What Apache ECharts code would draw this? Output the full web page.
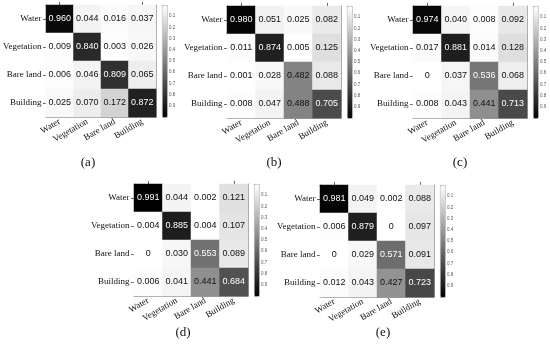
<!DOCTYPE html>
<html>
<head>
<meta charset="utf-8">
<script src="https://cdn.jsdelivr.net/npm/echarts@6/dist/echarts.min.js"></script>
<style>html,body{margin:0;padding:0;background:#fff}#c{width:550px;height:345px}</style>
</head>
<body>
<div id="c"></div>
<script>
const categories = ['Water', 'Vegetation', 'Bare land', 'Building'];
const matA = [[0.960, 0.044, 0.016, 0.037], [0.009, 0.840, 0.003, 0.026], [0.006, 0.046, 0.809, 0.065], [0.025, 0.070, 0.172, 0.872]];
const matB = [[0.980, 0.051, 0.025, 0.082], [0.011, 0.874, 0.005, 0.125], [0.001, 0.028, 0.482, 0.088], [0.008, 0.047, 0.488, 0.705]];
const matC = [[0.974, 0.040, 0.008, 0.092], [0.017, 0.881, 0.014, 0.128], [0, 0.037, 0.536, 0.068], [0.008, 0.043, 0.441, 0.713]];
const matD = [[0.991, 0.044, 0.002, 0.121], [0.004, 0.885, 0.004, 0.107], [0, 0.030, 0.553, 0.089], [0.006, 0.041, 0.441, 0.684]];
const matE = [[0.981, 0.049, 0.002, 0.088], [0.006, 0.879, 0, 0.097], [0, 0.029, 0.571, 0.091], [0.012, 0.043, 0.427, 0.723]];
const captions = ['(a)', '(b)', '(c)', '(d)', '(e)'];
const colorbarMin = 0, colorbarMax = 1, colorbarStep = 0.1;

const matrices = [matA, matB, matC, matD, matE];
// layout (pixels)
const panels = [
  {left: 42, top: 5, cap: [88, 156]},
  {left: 227, top: 6, cap: [274, 156]},
  {left: 413, top: 6, cap: [460, 156]},
  {left: 134, top: 184, cap: [183, 326]},
  {left: 320, top: 185, cap: [383, 326]}
];
const W = 114, H = 112, CBGAP = 6, CBW = 5;
const SERIF = 'Liberation Serif';
const SANS = 'Liberation Sans';
const AXC = '#9a9a9a';

const grid = [], xAxis = [], yAxis = [], series = [], visualMap = [], title = [];
panels.forEach((p, i) => {
  grid.push({left: p.left, top: p.top, width: W, height: H});
});
panels.forEach((p, i) => {
  grid.push({left: p.left + W + CBGAP, top: p.top, width: CBW, height: H});
});
// bottom x axes (labels)
panels.forEach((p, i) => {
  xAxis.push({
    type: 'category', gridIndex: i, data: categories, position: 'bottom',
    axisLine: {show: true, lineStyle: {color: AXC, width: 1}},
    axisTick: {show: false},
    axisLabel: {rotate: 30, fontFamily: SERIF, fontSize: 9, color: '#111', margin: 4, interval: 0},
    splitLine: {show: false}
  });
});
// top x axes (ticks)
panels.forEach((p, i) => {
  xAxis.push({
    type: 'category', gridIndex: i, data: categories, position: 'top',
    axisLine: {show: true, lineStyle: {color: AXC, width: 1}},
    axisTick: {show: true, alignWithLabel: true, length: 3, lineStyle: {color: '#666'}},
    axisLabel: {show: false}, splitLine: {show: false}
  });
});
// colorbar hidden x axes
panels.forEach((p, i) => {
  xAxis.push({type: 'value', gridIndex: 5 + i, show: false, min: 0, max: 1});
});
// left y axes
panels.forEach((p, i) => {
  yAxis.push({
    type: 'category', gridIndex: i, data: categories, inverse: true, position: 'left',
    axisLine: {show: true, lineStyle: {color: AXC, width: 1}},
    axisTick: {show: true, alignWithLabel: true, length: 3, lineStyle: {color: '#666'}},
    axisLabel: {fontFamily: SERIF, fontSize: 9, color: '#111', margin: 4.5, interval: 0},
    splitLine: {show: false}
  });
});
// right y axes (box border)
panels.forEach((p, i) => {
  yAxis.push({
    type: 'category', gridIndex: i, data: categories, inverse: true, position: 'right',
    axisLine: {show: true, lineStyle: {color: AXC, width: 1}},
    axisTick: {show: false}, axisLabel: {show: false}, splitLine: {show: false}
  });
});
// colorbar y axes
panels.forEach((p, i) => {
  yAxis.push({
    type: 'value', gridIndex: 5 + i, min: colorbarMin, max: colorbarMax, interval: colorbarStep,
    inverse: true, position: 'right',
    axisLine: {show: false},
    axisTick: {show: true, length: 1.5, lineStyle: {color: '#888', width: 0.6}},
    axisLabel: {fontFamily: SANS, fontSize: 4.5, color: '#555', margin: 2,
      formatter: v => (v > colorbarMin + 1e-6 && v < colorbarMax - 1e-6) ? v.toFixed(1) : ''},
    splitLine: {show: false}
  });
});

matrices.forEach((m, i) => {
  const data = [];
  m.forEach((row, r) => {
    row.forEach((v, c) => {
      data.push({value: [c, r, v], label: {color: v > 0.5 ? '#ffffff' : '#111111'}});
    });
  });
  series.push({
    type: 'heatmap', xAxisIndex: i, yAxisIndex: i, data: data,
    label: {show: true, fontFamily: SANS, fontSize: 9,
      formatter: prm => prm.value[2] === 0 ? '0' : prm.value[2].toFixed(3)},
    itemStyle: {borderWidth: 0},
    emphasis: {disabled: true}
  });
  visualMap.push({
    type: 'continuous', seriesIndex: i, dimension: 2, min: colorbarMin, max: colorbarMax,
    inRange: {color: ['#ffffff', '#000000']},
    orient: 'vertical', inverse: true, calculable: false, hoverLink: false,
    left: panels[i].left + W + CBGAP, top: panels[i].top,
    itemWidth: CBW, itemHeight: H, padding: 0,
    borderColor: '#b5b5b5', borderWidth: 0.8,
    text: null, showLabel: false
  });
  title.push({
    text: captions[i], left: panels[i].cap[0], top: panels[i].cap[1], textAlign: 'center',
    padding: 0,
    textStyle: {fontFamily: SERIF, fontSize: 13, fontWeight: 'normal', color: '#111'}
  });
});

const chart = echarts.init(document.getElementById('c'), null, {renderer: 'canvas'});
chart.setOption({
  animation: false,
  backgroundColor: '#ffffff',
  title, grid, xAxis, yAxis, series, visualMap
});
</script>
</body>
</html>
